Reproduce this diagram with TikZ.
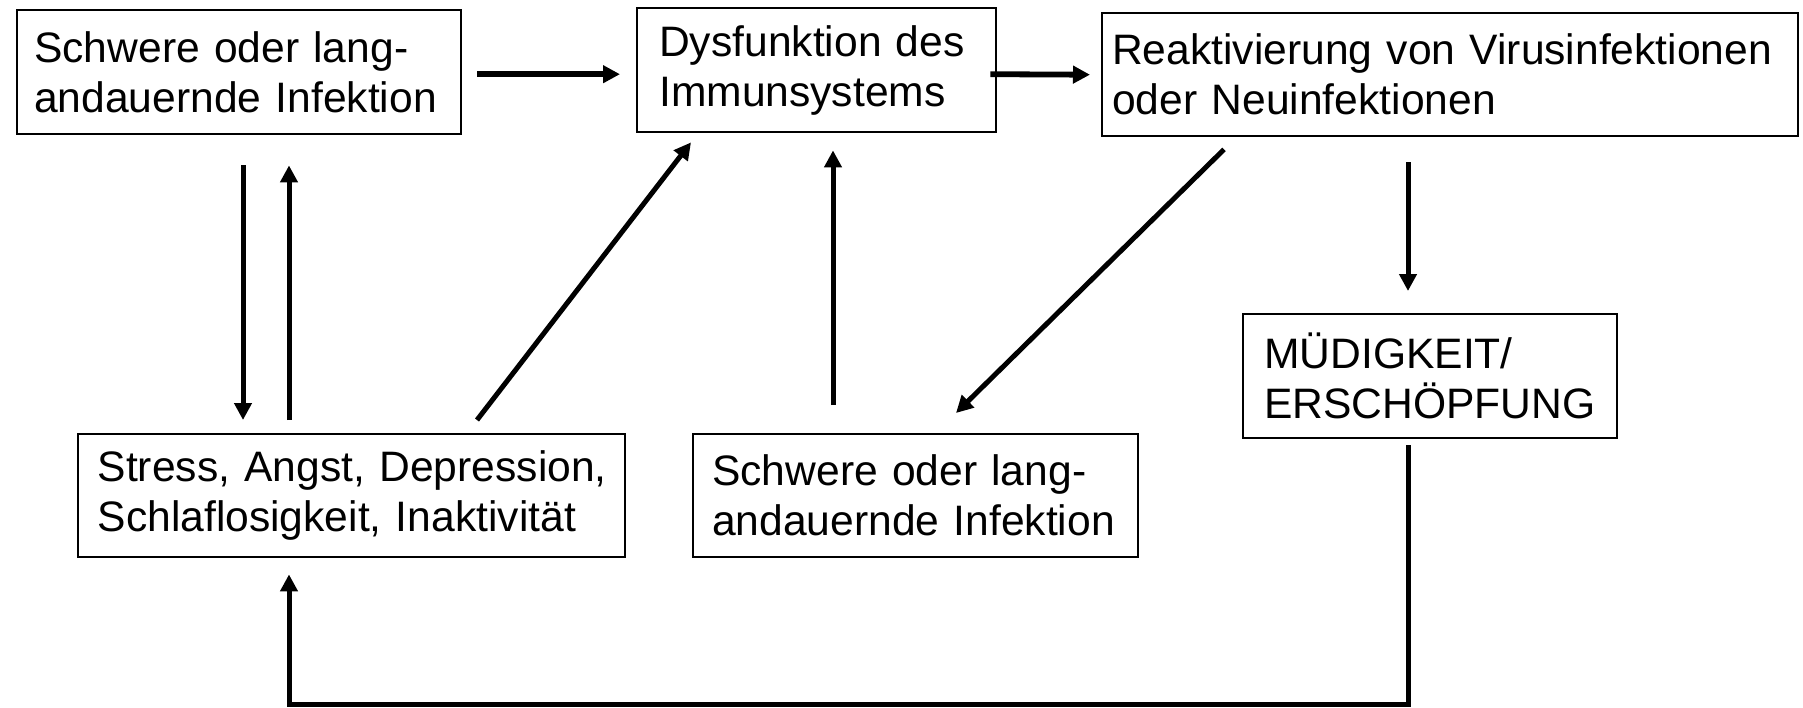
\documentclass[tikz,border=0pt]{standalone}
\usepackage{fontspec}
\setmainfont{Liberation Sans}
\usetikzlibrary{arrows.meta,calc}
\begin{document}
\begin{tikzpicture}[x=0.5pt,y=-0.5pt,
  box/.style={draw, line width=1.2pt, anchor=north west, align=left,
    font=\fontsize{21.3}{25}\selectfont, inner ysep=0pt},
  arr/.style={line width=2.5pt, -{Triangle[length=8.5pt,width=8.5pt]}},
  thickarr/.style={arr, line width=2.9pt},
]
\useasboundingbox (0,0) rectangle (1803,707);

\node[box, inner xsep=8.5pt, text width=205pt, minimum height=62pt] (A) at (16,9)
  {\mbox{Schwere oder lang-}\\\mbox{andauernde Infektion}};
\node[box, inner xsep=11pt, text width=157.5pt, minimum height=62pt] (B) at (636,7)
  {\mbox{Dysfunktion des}\\\mbox{Immunsystems}};
\node[box, inner xsep=5pt, text width=338pt, minimum height=61.5pt] (C) at (1101,12)
  {\mbox{Reaktivierung von Virusinfektionen}\\\mbox{oder Neuinfektionen}};
\node[box, inner xsep=9.75pt, text width=254pt, minimum height=61.5pt] (D) at (77,433)
  {\mbox{Stress, Angst, Depression,}\\\mbox{Schlaflosigkeit, Inaktivität}};
\node[box, inner xsep=9.5pt, text width=203.5pt, minimum height=61.5pt] (E) at (692,433)
  {\mbox{Schwere oder lang-}\\\mbox{andauernde Infektion}};
\node[box, inner xsep=10.5pt, text width=166pt, minimum height=62pt] (F) at (1242,313)
  {\mbox{MÜDIGKEIT/}\\\mbox{ERSCHÖPFUNG}};

% top row
\draw[thickarr] ($(A.east)+(15,2)$) -- ($(B.west)+(-16,4)$);
\draw[thickarr] ($(B.east)+(-7,4)$) -- ($(C.west)+(-11,0)$);

% A <-> D
\draw[arr] ($(A.south west)+(227,30)$) -- ($(D.north west)+(166,-13)$);
\draw[arr] ($(D.north west)+(212,-13)$) -- ($(A.south west)+(273,30)$);

% D -> B, E -> B
\draw[arr] ($(D.north west)+(400,-13)$) -- ($(B.south west)+(55,9)$);
\draw[arr] ($(E.north west)+(141,-28)$) -- ($(B.south west)+(197,17)$);

% C -> E, C -> F
\draw[arr] ($(C.south west)+(123,12)$) -- ($(E.north west)+(264,-20)$);
\draw[arr] ($(C.south west)+(307,25)$) -- ($(F.north west)+(166,-22)$);

% F -> D loop
\coordinate (loop) at (289,704);
\draw[arr] ($(F.south west)+(166,6)$) |- (loop) -- ($(D.south west)+(212,16)$);
\end{tikzpicture}
\end{document}
